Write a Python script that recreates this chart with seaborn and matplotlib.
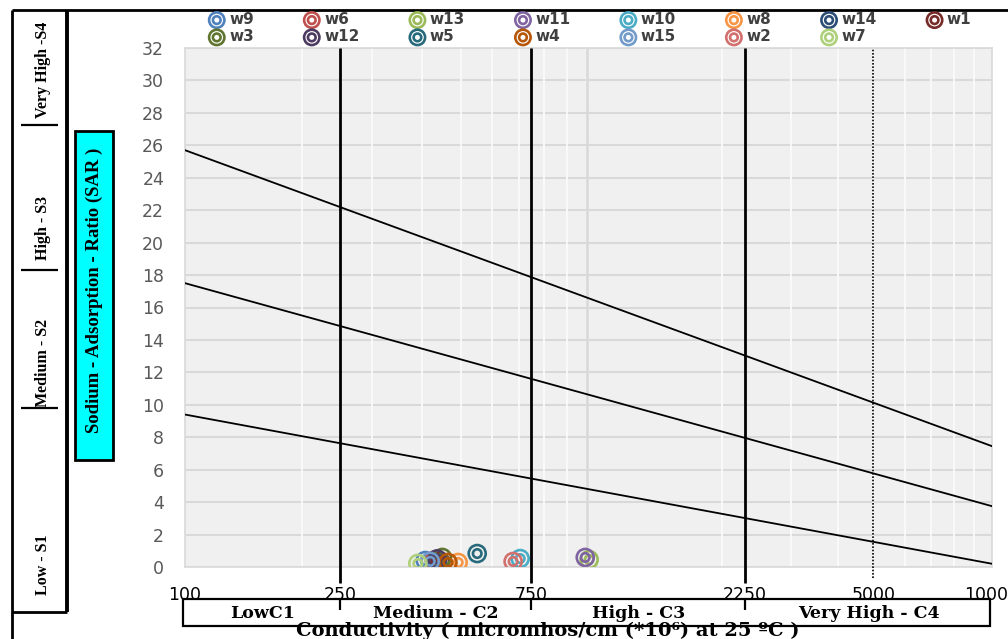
import numpy as np
import pandas as pd
import matplotlib
matplotlib.use("Agg")
import matplotlib.pyplot as plt
import seaborn as sns
from matplotlib.path import Path
from matplotlib.patches import Rectangle
from matplotlib.ticker import FixedLocator, NullLocator

# ---------------- data ----------------
wells = ["w9", "w6", "w13", "w11", "w10", "w8", "w14", "w1",
         "w3", "w12", "w5", "w4", "w15", "w2", "w7"]
ec = [408, 430, 1010, 990, 704, 493, 437, 445, 450, 437, 550, 465, 420, 676, 391]
sar = [0.40, 0.42, 0.46, 0.59, 0.52, 0.28, 0.30, 0.35, 0.59, 0.50, 0.83, 0.28, 0.35, 0.34, 0.22]
colors = ["#4f81bd", "#c0504d", "#9bbb59", "#8064a2", "#4bacc6", "#f79646", "#2c4d75", "#772c2a",
          "#5f7530", "#4d3b62", "#276a7c", "#b65708", "#729aca", "#d2706d", "#afd07a"]

line_ec = [100, 10000]
line_low = [9.4, 0.2]
line_mid = [17.5, 3.75]
line_high = [25.7, 7.45]

class_bounds = [250, 750, 2250]
dotted_bound = [5000]
x_ticks = [100, 250, 750, 2250, 5000, 10000]
x_tick_labels = ["100", "250", "750", "2250", "5000", "10000"]
y_ticks = list(range(0, 33, 2))
grid_major_x = [1000]
grid_minor_x = [200, 300, 400, 500, 600, 700, 800, 900, 2000, 3000, 4000, 5000, 6000, 7000, 8000, 9000]
c_classes = ["LowC1", "Medium - C2", "High - C3", "Very High - C4"]
c_edges = [100, 250, 750, 2250, 10000]
s_classes = ["Low - S1", "Medium - S2", "High - S3", "Very High -S4"]
ylabel = "Sodium - Adsorption - Ratio (SAR )"
xlabel = "Conductivity ( micromhos/cm (*10\u2076) at 25 \u00baC )"

df = pd.DataFrame({"well": wells, "ec": ec, "sar": sar})

# ---------------- scale (piecewise log, as drawn in the reference) ----------------
_LOGA = np.log10(np.array(x_ticks, dtype=float))
_FR = np.array([0.0, 0.192, 0.429, 0.694, 0.853, 1.0])

def fwd(x):
    x = np.asarray(x, dtype=float)
    return np.interp(np.log10(np.clip(x, 1e-9, None)), _LOGA, _FR)

def inv(f):
    f = np.asarray(f, dtype=float)
    return 10 ** np.interp(f, _FR, _LOGA)

# ---------------- figure ----------------
W, H = 1008, 639
fig = plt.figure(figsize=(W / 100, H / 100), dpi=100)
fig.patch.set_facecolor("white")

ov = fig.add_axes([0, 0, 1, 1], zorder=0)
ov.set_xlim(0, W)
ov.set_ylim(H, 0)
ov.axis("off")

ax = fig.add_axes([185 / W, 1 - 567 / H, 807 / W, 519 / H], zorder=1)
ax.set_facecolor("#f0f0f0")
ax.set_xscale("function", functions=(fwd, inv))
ax.set_xlim(100, 10000)
ax.set_ylim(0, 32)

ax.set_yticks(y_ticks)
ax.yaxis.set_minor_locator(NullLocator())
ax.xaxis.set_major_locator(FixedLocator(x_ticks))
ax.xaxis.set_minor_locator(NullLocator())
ax.set_xticklabels(x_tick_labels)
ax.tick_params(axis="y", length=0, pad=15, labelsize=12.5, labelcolor="#595959")
ax.tick_params(axis="x", length=0, pad=14, labelsize=12.5, labelcolor="black")
for lab in ax.get_xticklabels() + ax.get_yticklabels():
    lab.set_fontfamily("DejaVu Sans")

ax.set_axisbelow(True)
ax.grid(axis="y", color="#d9d9d9", lw=1.5)
ax.grid(axis="x", visible=False)
ax.vlines(grid_minor_x, 0, 32, colors="#fafafa", lw=1.3, zorder=0.8)
ax.vlines(grid_major_x, 0, 32, colors="#d9d9d9", lw=1.8, zorder=0.9)
for s in ax.spines.values():
    s.set_color("#d9d9d9")
    s.set_linewidth(1.2)

# classification lines
for yy in (line_low, line_mid, line_high):
    sns.lineplot(x=line_ec, y=yy, ax=ax, color="black", lw=1.3, legend=False, zorder=3)

ax.vlines(class_bounds, -1.0, 32, colors="black", lw=2.0, clip_on=False, zorder=3)
ax.vlines(dotted_bound, -0.7, 32, colors="black", lw=1.2, linestyles=(0, (1, 1)),
          clip_on=False, zorder=3)

# ring marker
_c = Path.unit_circle()
ring = Path.make_compound_path(_c, Path(_c.vertices * 0.5, _c.codes))

for (w, x, y), c in zip(df[["well", "ec", "sar"]].itertuples(index=False), colors):
    sns.scatterplot(x=[x], y=[y], ax=ax, marker=ring, s=150, facecolor="none",
                    edgecolor=c, color=c, linewidth=1.9, label=w, legend=False, zorder=4)
if ax.get_legend() is not None:
    ax.get_legend().remove()

# legend: row-major order over 8 columns
handles, labels = ax.get_legend_handles_labels()
ncol = 8
order = []
for j in range(ncol):
    for i in (j, j + ncol):
        if i < len(labels):
            order.append(i)
leg = fig.legend([handles[i] for i in order], [labels[i] for i in order], ncol=ncol,
                 loc="upper left", bbox_to_anchor=(203 / W, 1 - 6 / H),
                 frameon=False, markerscale=0.9, handletextpad=0.3, columnspacing=3.3,
                 labelspacing=0.15, borderaxespad=0, handlelength=1.0,
                 prop={"family": "DejaVu Sans", "weight": "bold", "size": 11})
for t in leg.get_texts():
    t.set_color("#404040")

ax.set_xlabel("")
ax.set_ylabel("")

# ---------------- bottom classification box ----------------
tr = ax.get_xaxis_transform()
px = 1.0 / 519  # one pixel in axes-y
ax.add_patch(Rectangle((-0.0025, -32 * px), 1.0, -27 * px, transform=ax.transAxes,
                       fill=False, ec="black", lw=1.6, clip_on=False))
ax.vlines(class_bounds, -32 * px, -43 * px, colors="black", lw=1.6, transform=tr, clip_on=False)
for i, lab in enumerate(c_classes):
    xm = float(inv((fwd(c_edges[i]) + fwd(c_edges[i + 1])) / 2))
    ax.text(xm, -46 * px, lab, transform=tr, ha="center", va="center",
            family="DejaVu Serif", weight="bold", size=12.5)

ov.text(548, 631, xlabel, ha="center", va="center",
        family=["DejaVu Serif"], weight="bold", size=14)

# ---------------- left panel ----------------
kw = dict(color="black", solid_capstyle="butt")
ov.plot([12, 12], [10, H], lw=2, **kw)
ov.plot([67, 67], [10, 612], lw=2.8, **kw)
ov.plot([12, 67], [612, 612], lw=2, **kw)
ov.plot([12, W], [10, 10], lw=2, **kw)
for yy in (125, 270, 408):
    ov.plot([21, 58], [yy, yy], lw=1.6, **kw)
for lab, yc in zip(s_classes, [565, 363, 228, 70]):
    ov.text(43, yc, lab, rotation=90, ha="center", va="center",
            family="Liberation Serif", weight="bold", size=11.5)

ov.add_patch(Rectangle((75, 131), 38, 329, fc="#00ffff", ec="black", lw=2))
ov.text(94, 290, ylabel, rotation=90, ha="center", va="center",
        family="Liberation Serif", weight="bold", size=13.5)

fig.savefig("out.png", dpi=100)
